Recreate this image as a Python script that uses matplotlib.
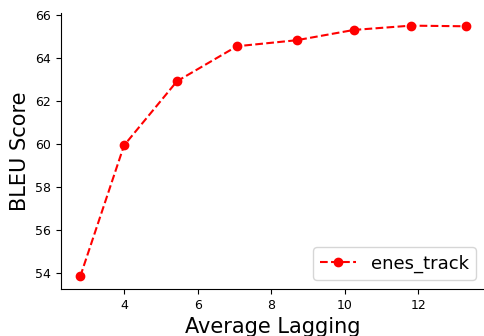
import matplotlib
matplotlib.use('Agg')
import matplotlib.pyplot as plt

average_lagging = [2.81, 4.0, 5.44, 7.07, 8.69, 10.25, 11.80, 13.29]
bleu_score = [53.83, 59.93, 62.92, 64.55, 64.83, 65.31, 65.51, 65.48]
series_name = 'enes_track'

fig = plt.figure(figsize=(4.84, 3.36), dpi=100)
ax = fig.add_subplot(111)
fig.subplots_adjust(left=0.126, right=1.002, bottom=0.14, top=0.961)

ax.plot(average_lagging, bleu_score, 'r--o', linewidth=1.5, markersize=6, label=series_name)
ax.set_xlabel('Average Lagging', fontsize=15)
ax.set_ylabel('BLEU Score', fontsize=15)
ax.tick_params(labelsize=9)
ax.spines['top'].set_visible(False)
ax.spines['right'].set_visible(False)
ax.legend(loc='lower right', fontsize=13)

fig.savefig('out.png', dpi=100)
